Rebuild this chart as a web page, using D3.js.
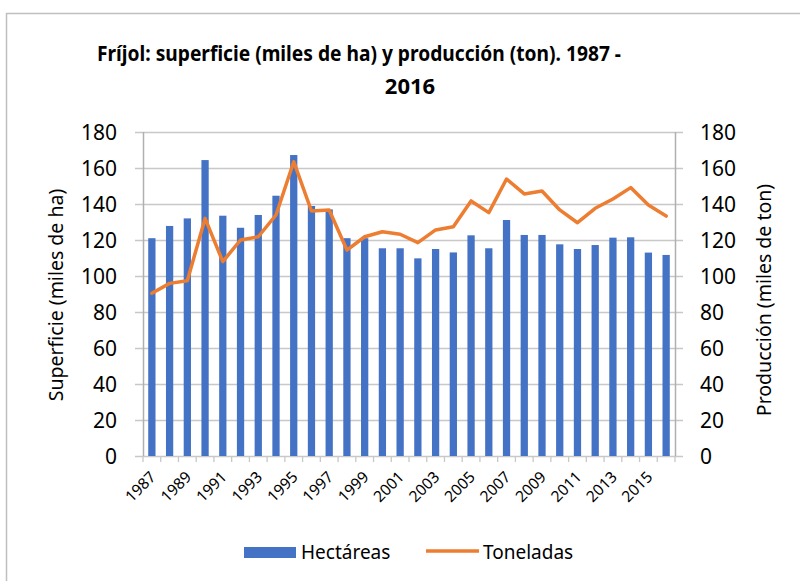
<!DOCTYPE html>
<html lang="es">
<head>
  <meta charset="UTF-8">
  <title>Fríjol: superficie y producción</title>
  <script src="https://d3js.org/d3.v7.min.js"></script>
  <style>
    body {
      margin: 0;
      background: #fff;
      font-family: "Noto Sans", "Open Sans", sans-serif;
    }
    .grid line { stroke: #c8c8c8; stroke-width: 1.3px; }
    .tick-label { font-size: 21px; fill: #000; }
    .year-label { font-size: 15.5px; fill: #000; }
    .axis-title { font-size: 19.5px; fill: #000; }
    .legend-text { font-size: 19px; fill: #000; }
  </style>
</head>
<body>
  <div id="chart"></div>
  <script>
    // data
    const years = ["1987", "1988", "1989", "1990", "1991", "1992", "1993", "1994", "1995", "1996",
      "1997", "1998", "1999", "2000", "2001", "2002", "2003", "2004", "2005", "2006",
      "2007", "2008", "2009", "2010", "2011", "2012", "2013", "2014", "2015", "2016"];
    // superficie, miles de ha
    const hectareas = [121, 127.8, 132, 164.4, 133.5, 126.8, 133.9, 144.6, 167.2, 138.9,
      137, 121, 121, 115.4, 115.4, 109.8, 115, 113.1, 122.6, 115.4,
      131.1, 122.8, 122.8, 117.6, 115, 117.2, 121.3, 121.5, 113, 111.7];
    // producción, miles de ton
    const toneladas = [90.4, 95.9, 97.4, 132, 108, 120, 121.8, 133.9, 163.5, 136.1,
      136.7, 114.4, 121.8, 124.6, 123.2, 118.5, 125.6, 127.4, 141.7, 135.2,
      153.9, 145.6, 147.2, 136.7, 129.6, 137.6, 142.8, 149.1, 139.4, 133.3];
    const yTicks = [0, 20, 40, 60, 80, 100, 120, 140, 160, 180];
    const labelYears = ["1987", "1989", "1991", "1993", "1995", "1997", "1999", "2001", "2003",
      "2005", "2007", "2009", "2011", "2013", "2015"];

    const width = 800;
    const height = 581;
    const plot = { left: 143, right: 675, top: 132, bottom: 456 };

    const svg = d3.select("#chart")
      .append("svg")
      .attr("width", width)
      .attr("height", height);

    // outer chart border (runs off the right and bottom edges)
    svg.append("rect")
      .attr("x", 6.5)
      .attr("y", 13.5)
      .attr("width", 900)
      .attr("height", 700)
      .attr("fill", "none")
      .attr("stroke", "#bfbfbf")
      .attr("stroke-width", 1.5);

    const x = d3.scaleBand()
      .domain(years)
      .range([plot.left, plot.right])
      .paddingInner(0.59)
      .paddingOuter(0.295);

    const yLeft = d3.scaleLinear().domain([0, 180]).range([plot.bottom, plot.top]);
    const yRight = d3.scaleLinear().domain([0, 180]).range([plot.bottom, plot.top]);

    // gridlines + outside ticks
    const grid = svg.append("g").attr("class", "grid");
    grid.selectAll("line")
      .data(yTicks)
      .enter()
      .append("line")
      .attr("x1", plot.left - 8)
      .attr("x2", plot.right + 8)
      .attr("y1", d => Math.round(yLeft(d)) + 0.5)
      .attr("y2", d => Math.round(yLeft(d)) + 0.5);

    // x axis tick marks between categories
    const step = x.step();
    svg.append("g")
      .selectAll("line")
      .data(d3.range(years.length + 1))
      .enter()
      .append("line")
      .attr("x1", i => plot.left + i * step)
      .attr("x2", i => plot.left + i * step)
      .attr("y1", plot.bottom)
      .attr("y2", plot.bottom + 6)
      .attr("stroke", "#c8c8c8")
      .attr("stroke-width", 1.3);

    // left and right axis lines
    [plot.left, plot.right].forEach(px => {
      svg.append("line")
        .attr("x1", px + 0.5).attr("x2", px + 0.5)
        .attr("y1", plot.top).attr("y2", plot.bottom)
        .attr("stroke", "#b0b0b0")
        .attr("stroke-width", 1.5);
    });

    // bars
    svg.append("g")
      .selectAll("rect")
      .data(years)
      .enter()
      .append("rect")
      .attr("x", (d) => x(d))
      .attr("width", x.bandwidth())
      .attr("y", (d, i) => yLeft(hectareas[i]))
      .attr("height", (d, i) => plot.bottom - yLeft(hectareas[i]))
      .attr("fill", "#4472c4");

    // line
    const line = d3.line()
      .x((d, i) => x(years[i]) + x.bandwidth() / 2)
      .y(d => yRight(d));

    svg.append("path")
      .datum(toneladas)
      .attr("d", line)
      .attr("fill", "none")
      .attr("stroke", "#ed7d31")
      .attr("stroke-width", 3.5)
      .attr("stroke-linejoin", "round")
      .attr("stroke-linecap", "round");

    // y tick labels
    svg.append("g")
      .selectAll("text")
      .data(yTicks)
      .enter()
      .append("text")
      .attr("class", "tick-label")
      .attr("x", 117)
      .attr("y", d => yLeft(d))
      .attr("dy", "0.36em")
      .attr("text-anchor", "end")
      .text(d => d);

    svg.append("g")
      .selectAll("text")
      .data(yTicks)
      .enter()
      .append("text")
      .attr("class", "tick-label")
      .attr("x", 700)
      .attr("y", d => yRight(d))
      .attr("dy", "0.36em")
      .attr("text-anchor", "start")
      .text(d => d);

    // year labels, rotated
    svg.append("g")
      .selectAll("text")
      .data(labelYears)
      .enter()
      .append("text")
      .attr("class", "year-label")
      .attr("text-anchor", "end")
      .attr("transform", d => `translate(${x(d) + x.bandwidth() / 2 + 5}, ${plot.bottom + 22}) rotate(-45)`)
      .text(d => d);

    // axis titles
    svg.append("text")
      .attr("class", "axis-title")
      .attr("text-anchor", "middle")
      .attr("transform", "translate(63, 295) rotate(-90)")
      .text("Superficie (miles de ha)");

    svg.append("text")
      .attr("class", "axis-title")
      .attr("text-anchor", "middle")
      .attr("transform", "translate(771, 300) rotate(-90)")
      .text("Producción (miles de ton)");

    // title
    svg.append("text")
      .attr("x", 97)
      .attr("y", 61)
      .attr("textLength", 524)
      .attr("lengthAdjust", "spacingAndGlyphs")
      .style("font-size", "22px")
      .style("font-weight", "bold")
      .text("Fríjol: superficie (miles de ha) y producción (ton). 1987 -");

    svg.append("text")
      .attr("x", 410)
      .attr("y", 94)
      .attr("text-anchor", "middle")
      .style("font-size", "22px")
      .style("font-weight", "bold")
      .text("2016");

    // legend
    const legend = svg.append("g");
    legend.append("rect")
      .attr("x", 244).attr("y", 547)
      .attr("width", 52).attr("height", 11)
      .attr("fill", "#4472c4");
    legend.append("text")
      .attr("class", "legend-text")
      .attr("x", 301).attr("y", 559)
      .text("Hectáreas");
    legend.append("line")
      .attr("x1", 426).attr("x2", 479)
      .attr("y1", 551).attr("y2", 551)
      .attr("stroke", "#ed7d31")
      .attr("stroke-width", 3.5);
    legend.append("text")
      .attr("class", "legend-text")
      .attr("x", 483).attr("y", 559)
      .text("Toneladas");
  </script>
</body>
</html>
